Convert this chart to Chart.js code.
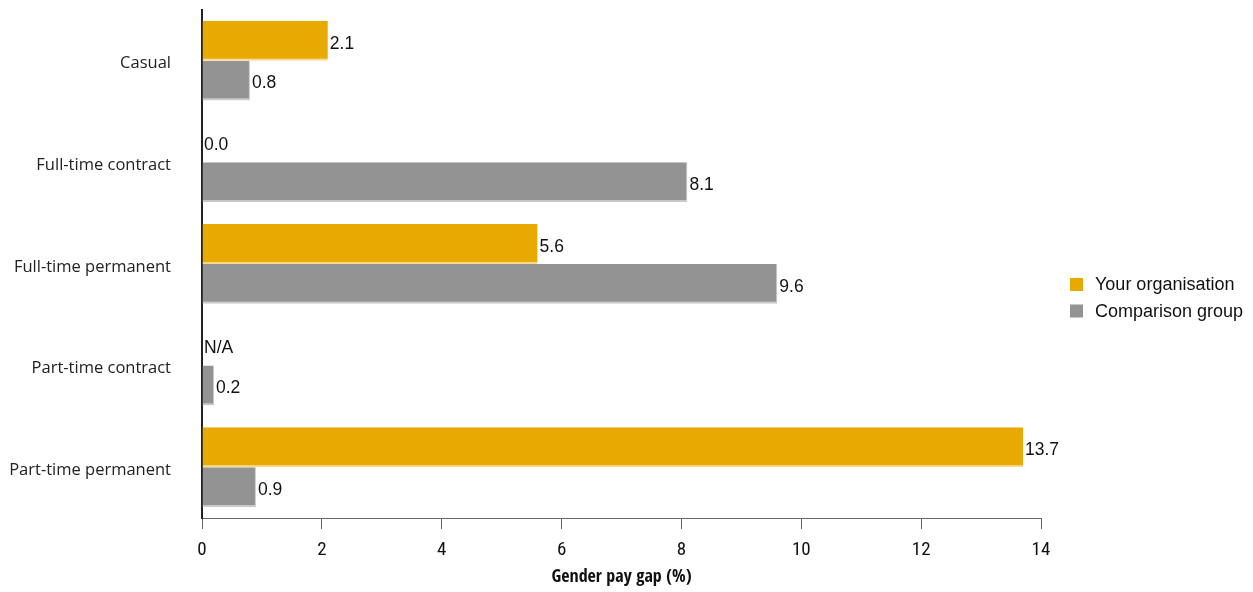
<!DOCTYPE html>
<html>
<head>
<meta charset="utf-8">
<script src="https://cdn.jsdelivr.net/npm/chart.js@4/dist/chart.umd.min.js"></script>
<style>
  html, body { margin: 0; padding: 0; background: #fff; }
  #wrap { width: 1253px; height: 592px; }
</style>
</head>
<body>
<div id="wrap"><canvas id="payGapChart"></canvas></div>
<script>
// Gender pay gap by employment type
var categories = ['Casual', 'Full-time contract', 'Full-time permanent', 'Part-time contract', 'Part-time permanent'];
var yourOrg = [2.1, 0.0, 5.6, null, 13.7];       // null = N/A
var comparisonGroup = [0.8, 8.1, 9.6, 0.2, 0.9];
var xTicks = [0, 2, 4, 6, 8, 10, 12, 14];

// value at the end of each bar, "N/A" where there is no value
var barValueLabels = {
  id: 'barValueLabels',
  afterDatasetsDraw: function (chart) {
    var ctx = chart.ctx;
    var x0 = chart.scales.x.getPixelForValue(0);
    ctx.save();
    ctx.font = '17.5px "Liberation Sans", Arial, sans-serif';
    ctx.fillStyle = '#111';
    ctx.textBaseline = 'middle';
    ctx.textAlign = 'left';
    chart.data.datasets.forEach(function (ds, i) {
      chart.getDatasetMeta(i).data.forEach(function (bar, j) {
        var v = ds.data[j];
        var txt = (v === null) ? 'N/A' : v.toFixed(1);
        var x = (v === null) ? x0 : bar.x;
        ctx.fillText(txt, x + 2, bar.y + 3);
      });
    });
    ctx.restore();
  }
};

// legend on the right, square swatches
var sideLegend = {
  id: 'sideLegend',
  afterDraw: function (chart) {
    var ctx = chart.ctx;
    var left = 1070, top = 278, step = 26.5, box = 13;
    ctx.save();
    ctx.font = '18px "Liberation Sans", Arial, sans-serif';
    ctx.textBaseline = 'middle';
    ctx.textAlign = 'left';
    chart.data.datasets.forEach(function (ds, i) {
      var y = top + i * step;
      ctx.fillStyle = ds.backgroundColor;
      ctx.fillRect(left, y, box, box);
      ctx.fillStyle = '#111';
      ctx.fillText(ds.label, left + box + 12, y + box / 2 + 1);
    });
    ctx.restore();
  }
};

var ctx = document.getElementById('payGapChart').getContext('2d');
var payGapChart = new Chart(ctx, {
  type: 'bar',
  data: {
    labels: categories,
    datasets: [{
      label: 'Your organisation',
      data: yourOrg,
      backgroundColor: '#E8AA00',
      borderColor: '#F6D98C',
      borderWidth: { top: 0, right: 0, bottom: 2, left: 0 },
      borderSkipped: false
    }, {
      label: 'Comparison group',
      data: comparisonGroup,
      backgroundColor: '#939393',
      borderColor: '#CACACA',
      borderWidth: { top: 0, right: 1, bottom: 2, left: 0 },
      borderSkipped: false
    }]
  },
  options: {
    indexAxis: 'y',
    responsive: true,
    maintainAspectRatio: false,
    animation: false,
    layout: { autoPadding: false, padding: { top: 8, right: 212, left: 0, bottom: 0 } },
    datasets: {
      bar: { categoryPercentage: 0.785, barPercentage: 1.0 }
    },
    scales: {
      x: {
        min: 0,
        max: 14,
        afterBuildTicks: function (axis) {
          axis.ticks = xTicks.map(function (v) { return { value: v }; });
        },
        afterFit: function (axis) { axis.height = 74; },
        grid: {
          drawOnChartArea: false,
          drawTicks: true,
          tickLength: 11,
          color: '#666'
        },
        border: { color: '#666', width: 1 },
        ticks: {
          color: '#111',
          padding: 10,
          maxRotation: 0,
          font: { family: '"Roboto Condensed", "Open Sans Condensed", sans-serif', size: 19 }
        },
        title: {
          display: true,
          text: 'Gender pay gap (%)',
          color: '#111',
          padding: { top: 0, bottom: 4 },
          font: { family: '"Open Sans Condensed", "Roboto Condensed", sans-serif', size: 18, weight: 'bold' }
        }
      },
      y: {
        afterFit: function (axis) { axis.width = 202; },
        // hidden tick marks keep the labels clear of the axis line
        grid: { display: false, drawTicks: true, tickLength: 31 },
        border: { color: '#222', width: 2 },
        ticks: {
          color: '#222',
          padding: 0,
          labelOffset: 3,
          font: { family: '"Open Sans", "Noto Sans", sans-serif', size: 16.5 }
        }
      }
    },
    plugins: {
      legend: { display: false },
      tooltip: { enabled: false }
    }
  },
  plugins: [barValueLabels, sideLegend]
});
</script>
</body>
</html>
